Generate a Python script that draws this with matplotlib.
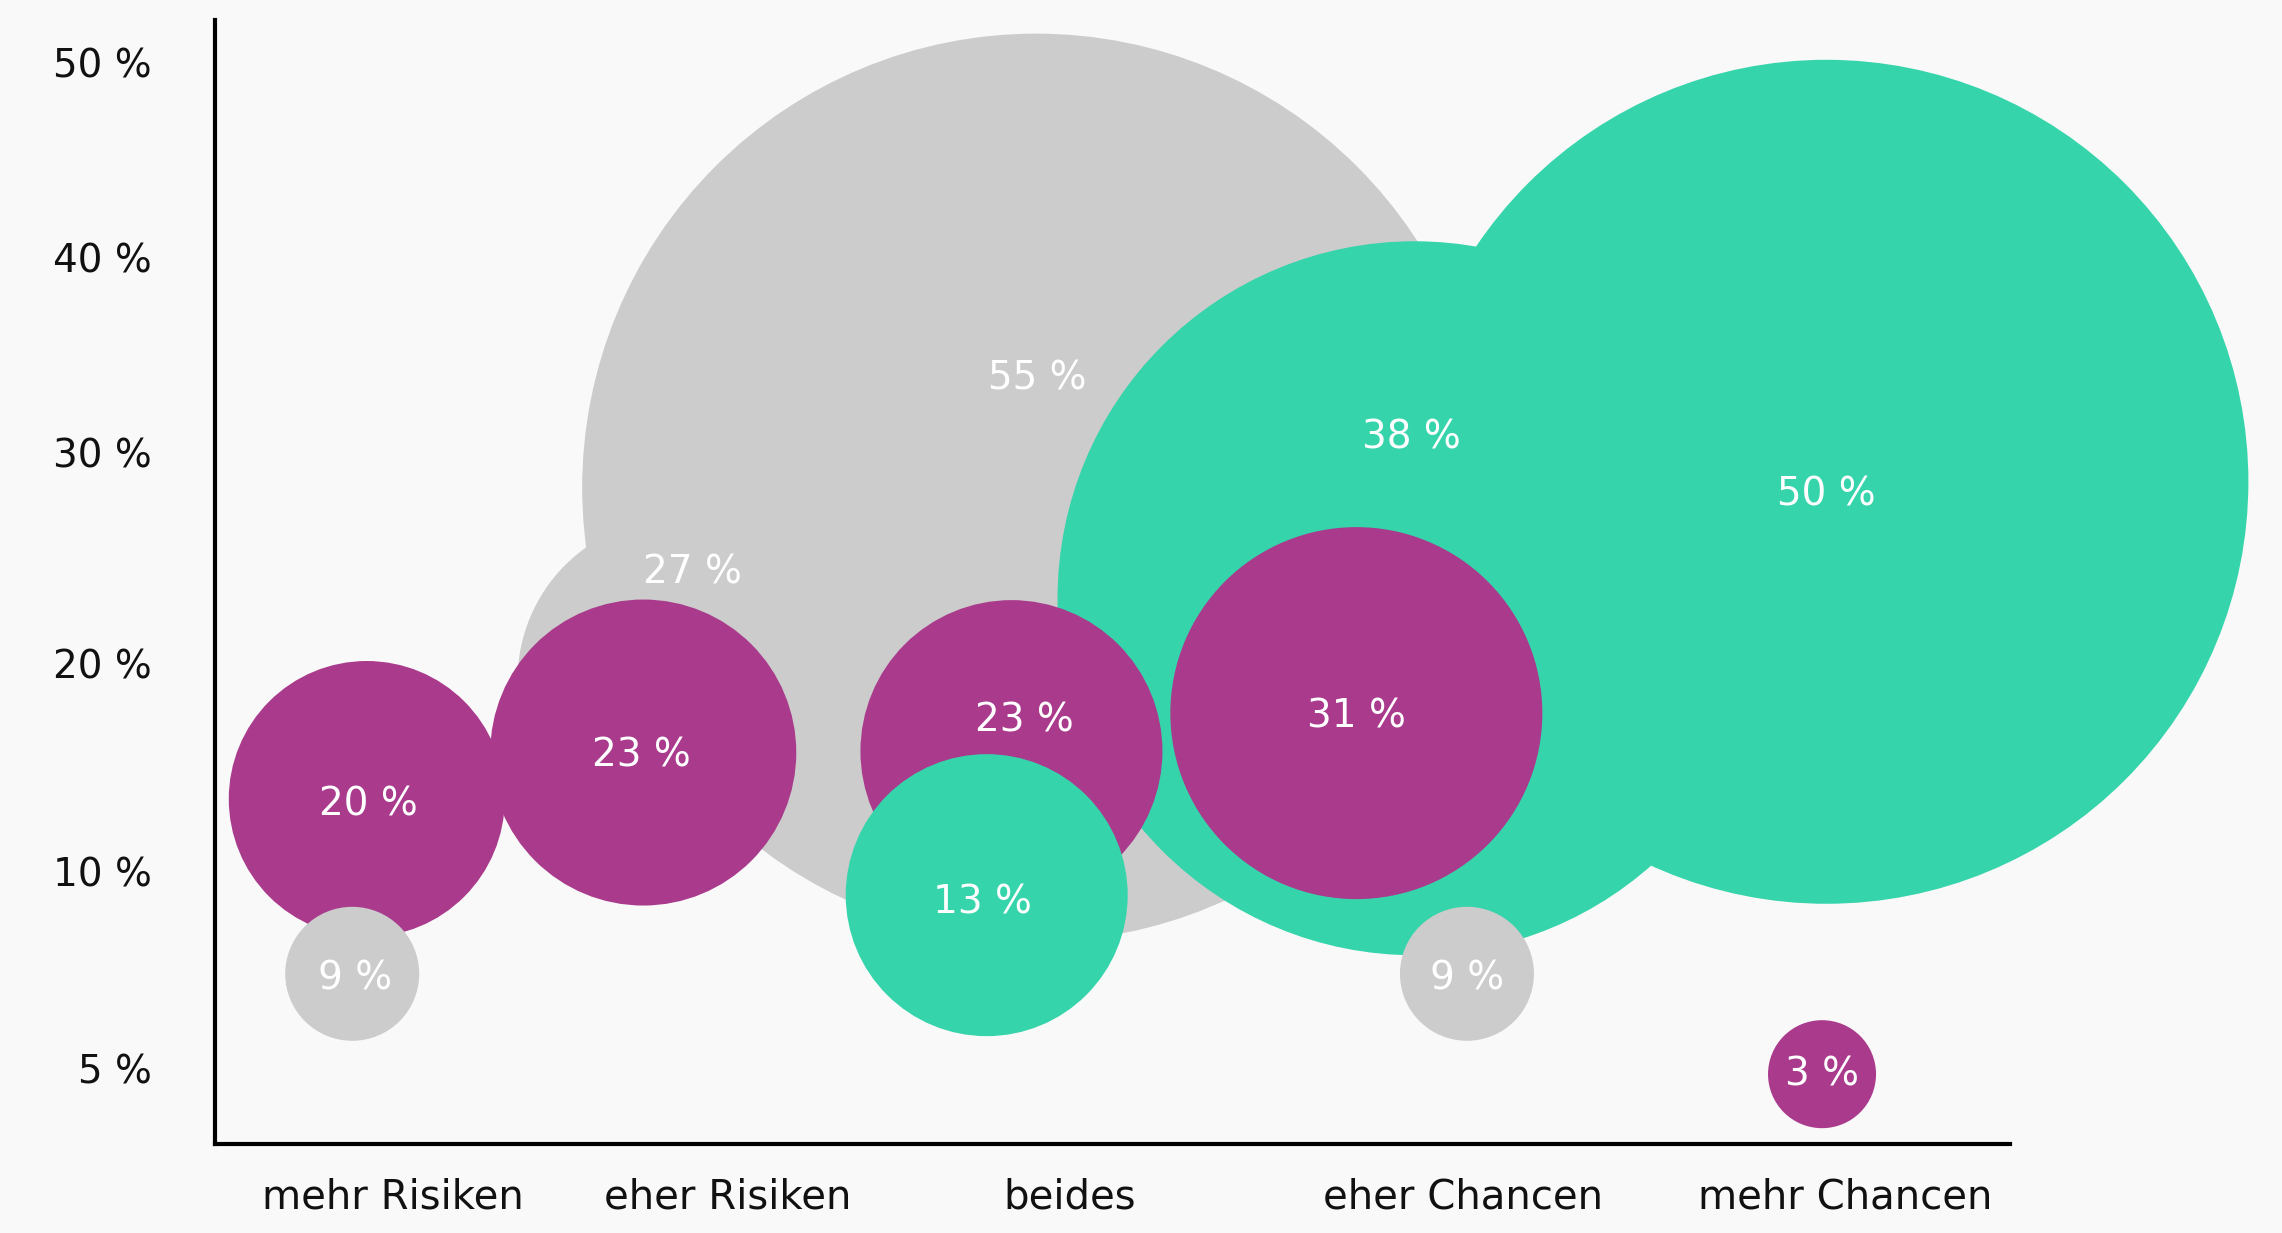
import matplotlib
matplotlib.use('Agg')
import matplotlib.pyplot as plt

plt.rcParams['font.family'] = ['DejaVu Sans']

CATEGORIES = ['mehr Risiken', 'eher Risiken', 'beides', 'eher Chancen', 'mehr Chancen']
Y_TICK_LABELS = ['5 %', '10 %', '20 %', '30 %', '40 %', '50 %']

# three answer groups, share per category in percent (None = no bubble)
GREY_VALUES = [9, 27, 55, 9, None]
MAGENTA_VALUES = [20, 23, 23, 31, 3]
GREEN_VALUES = [None, None, 13, 38, 50]

# layout: bubble centre (x in category units, y in tick units), radius in px, label position
GREY_X = [-0.052, 0.848, 1.828, 3.012, None]
GREY_Y = [0.470, 1.932, 2.887, 0.470, None]
GREY_R = [67, 162, 454, 67, None]
GREY_LX = [-0.044, 0.884, 1.832, 3.012, None]
GREY_LY = [0.446, 2.465, 3.427, 0.446, None]

MAGENTA_X = [-0.012, 0.748, 1.760, 2.708, 3.988]
MAGENTA_Y = [1.339, 1.570, 1.577, 1.766, -0.029]
MAGENTA_R = [138, 153, 151, 186, 54]
MAGENTA_LX = [-0.008, 0.744, 1.796, 2.708, 3.988]
MAGENTA_LY = [1.314, 1.553, 1.727, 1.748, -0.032]

GREEN_X = [None, None, 1.692, 2.868, 4.0]
GREEN_Y = [None, None, 0.861, 2.337, 2.916]
GREEN_R = [None, None, 141, 357, 422]
GREEN_LX = [None, None, 1.680, 2.860, 4.0]
GREEN_LY = [None, None, 0.822, 3.138, 2.855]

X_TICKS = [0.06, 0.98, 1.92, 3.0, 4.052]
Y_TICKS = [0, 0.977, 2.012, 3.061, 4.03, 5.0]

COLORS = {'grey': '#cccccc', 'magenta': '#a93a8c', 'green': '#36d4ab'}
BG = '#f9f9f9'
DPI = 100

series = [
    ('grey', GREY_VALUES, GREY_X, GREY_Y, GREY_R, GREY_LX, GREY_LY),
    ('magenta', MAGENTA_VALUES, MAGENTA_X, MAGENTA_Y, MAGENTA_R, MAGENTA_LX, MAGENTA_LY),
    ('green', GREEN_VALUES, GREEN_X, GREEN_Y, GREEN_R, GREEN_LX, GREEN_LY),
]

bubbles = []
for name, vals, xs, ys, rs, lxs, lys in series:
    for v, x, y, r, lx, ly in zip(vals, xs, ys, rs, lxs, lys):
        if v is None:
            continue
        bubbles.append((r, x, y, COLORS[name], v, lx, ly))
# bigger bubbles go to the back
bubbles.sort(key=lambda b: -b[0])

fig = plt.figure(figsize=(22.82, 12.33), dpi=DPI, facecolor=BG)
ax = fig.add_axes([0.0944, 0.0722, 0.7863, 0.9113])
ax.set_facecolor(BG)

sizes = [(2 * b[0] * 72 / DPI) ** 2 for b in bubbles]
ax.scatter([b[1] for b in bubbles], [b[2] for b in bubbles], s=sizes,
           c=[b[3] for b in bubbles], linewidths=0, clip_on=False, zorder=2)

for r, x, y, col, v, lx, ly in bubbles:
    ax.text(lx, ly, f'{v} %', color='white', fontsize=28, ha='center', va='center',
            zorder=5, clip_on=False)

ax.set_xlim(-0.428, 4.504)
ax.set_ylim(-0.376, 5.21)

ax.set_xticks(X_TICKS)
ax.set_xticklabels(CATEGORIES, fontsize=29, color='#111111')
ax.set_yticks(Y_TICKS)
ax.set_yticklabels(Y_TICK_LABELS, fontsize=28, color='#111111')
ax.tick_params(axis='x', length=0, pad=24)
ax.tick_params(axis='y', length=0, pad=46)

for side in ['top', 'right']:
    ax.spines[side].set_visible(False)
for side in ['left', 'bottom']:
    ax.spines[side].set_linewidth(3)
    ax.spines[side].set_color('black')
    ax.spines[side].set_zorder(1)

fig.savefig('out.png', dpi=DPI, facecolor=BG)
